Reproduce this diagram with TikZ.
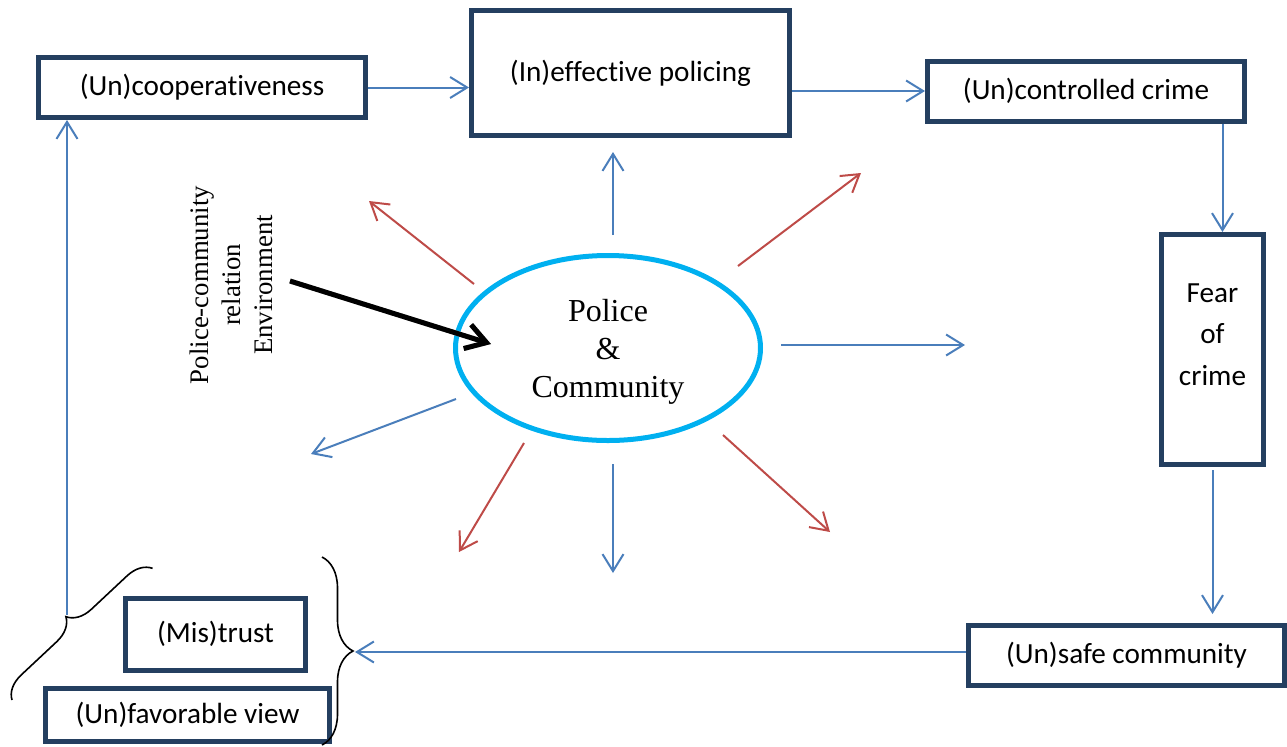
\documentclass[tikz,border=0pt]{standalone}
\usepackage{fontspec}
\setmainfont{Carlito}[Ligatures=NoCommon]
\newfontfamily\serifface{Liberation Serif}
\usetikzlibrary{positioning, calc, arrows.meta, decorations.pathreplacing, shapes.geometric}
\definecolor{boxnavy}{HTML}{243F60}
\definecolor{lineblue}{HTML}{4A7EBB}
\definecolor{linered}{HTML}{BE4B48}
\definecolor{ringcyan}{HTML}{00B0F0}
\tikzset{
    box node/.style={rectangle, draw=boxnavy, line width=2.5pt, fill=white, inner sep=2pt, font=\fontsize{14.6}{20.8}\selectfont, align=center},
    ring node/.style={ellipse, draw=ringcyan, line width=2.5pt, inner sep=0pt, minimum width=152.5pt, minimum height=92.5pt, font=\serifface\fontsize{16}{19}\selectfont, align=center},
    side label/.style={rotate=90, align=center, font=\serifface\fontsize{13.4}{16}\selectfont},
    blue arrow/.style={color=lineblue, line width=1pt, -{Straight Barb[length=8.5pt, width=10.5pt]}},
    red arrow/.style={color=linered, line width=1pt, -{Straight Barb[length=8.5pt, width=10.5pt]}},
    push arrow/.style={line width=2.5pt, -{Straight Barb[length=10pt, width=12.5pt]}},
    brace line/.style={draw=black, line width=0.8pt, decorate, decoration={brace, amplitude=#1}},
}

\begin{document}
\begin{tikzpicture}[x=0.5pt, y=-0.5pt]
    \useasboundingbox (0,0) rectangle (1287,746);
    % boxes
    \node[box node, minimum width=163.5pt, minimum height=30pt] (coop) at (202,87.5) {(Un)cooperativeness};
    \node[box node, minimum width=159pt, minimum height=62.5pt] (effect) at (630.5,73) {(In)effective policing};
    \node[box node, minimum width=158.5pt, minimum height=30pt] (ctrl) at (1086,91) {(Un)controlled crime};
    \node[box node, minimum width=51pt, minimum height=115pt, text depth=15pt] (fear) at (1212.5,349.5) {Fear\\of\\crime};
    \node[box node, minimum width=158pt, minimum height=30pt] (unsafe) at (1126.5,655.5) {(Un)safe community};
    \node[box node, minimum width=90pt, minimum height=36pt] (trust) at (215.5,634) {(Mis)trust};
    \node[box node, minimum width=142pt, minimum height=26.5pt] (fav) at (187.5,714.5) {(Un)favorable view};
    % centre
    \node[ring node, text depth=-1.5pt] (pc) at (608,348) {Police\\\&\\Community};
    \node[side label] (env) at (231,285) {Police-community\\relation\\Environment};

    % braces
    \coordinate (lb) at (67,615);
    \coordinate (rb) at (355,652);
    \path[brace line=12pt] (12,700) -- (153,568);
    \path[brace line=15.5pt] (322,557) -- (322,745);

    % cycle
    \path[blue arrow]
    (coop.east) edge (coop.east -| effect.west)
    (ctrl.west -| effect.east) edge (ctrl.west)
    ($(fear.north |- ctrl.south)+(10,0)$) edge ($(fear.north)+(10,0)$)
    ([yshift=-1.5pt]fear.south) edge ([yshift=4.5pt]fear.south |- unsafe.north)
    (rb -| unsafe.west) edge (rb)
    (lb) edge (lb |- coop.south);

    % rays
    \coordinate (up0) at (613,235);   \coordinate (up1) at (613,152);
    \coordinate (rt0) at (781,345);   \coordinate (rt1) at (965,345);
    \coordinate (dn0) at (613,464);   \coordinate (dn1) at (613,573);
    \coordinate (lf0) at (456,399);   \coordinate (lf1) at (311,454);
    \coordinate (ul0) at (474,284);   \coordinate (ul1) at (369,201);
    \coordinate (ur0) at (738,266);   \coordinate (ur1) at (861,173);
    \coordinate (dl0) at (524,443);   \coordinate (dl1) at (459,552);
    \coordinate (dr0) at (723,435);   \coordinate (dr1) at (830,532);
    \path[blue arrow]
    (up0) edge (up1)
    (rt0) edge (rt1)
    (dn0) edge (dn1)
    (lf0) edge (lf1);
    \path[red arrow]
    (ul0) edge (ul1)
    (ur0) edge (ur1)
    (dl0) edge (dl1)
    (dr0) edge (dr1);

    % environment push
    \coordinate (push0) at (290,281);
    \coordinate (push1) at (491,344);
    \draw[push arrow, gray!55, shift={(2,3)}] (push0) -- (push1);
    \draw[push arrow, black] (push0) -- (push1);
\end{tikzpicture}
\end{document}
